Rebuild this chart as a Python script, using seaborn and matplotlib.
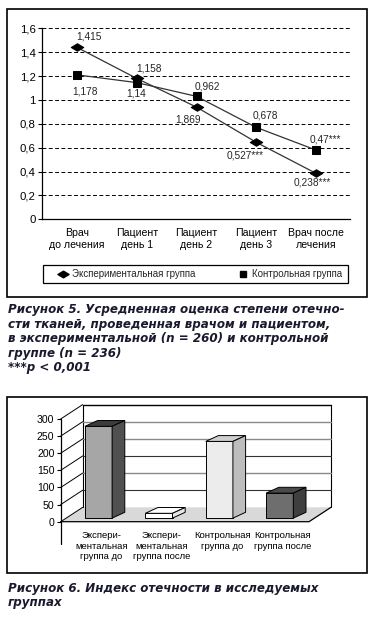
import numpy as np
import seaborn as sns
import matplotlib.pyplot as plt
from matplotlib.patches import Rectangle, Polygon
from matplotlib.lines import Line2D
from matplotlib.path import Path

# рисунок 5 - данные
stages = ["Врач\nдо лечения", "Пациент\nдень 1", "Пациент\nдень 2",
          "Пациент\nдень 3", "Врач после\nлечения"]
exp_group = [1.44, 1.18, 0.94, 0.645, 0.385]
ctrl_group = [1.21, 1.145, 1.03, 0.77, 0.58]
exp_labels = ["1,415", "1,158", "1,869", "0,527***", "0,238***"]
ctrl_labels = ["1,178", "1,14", "0,962", "0,678", "0,47***"]
line_ticks = [0, 0.2, 0.4, 0.6, 0.8, 1.0, 1.2, 1.4, 1.6]

# рисунок 6 - данные
bar_groups = ["Экспери-\nментальная\nгруппа до", "Экспери-\nментальная\nгруппа после",
              "Контрольная\nгруппа до", "Контрольная\nгруппа после"]
bar_values = [268, 14, 224, 73]
bar_ticks = [0, 50, 100, 150, 200, 250, 300]

caption5 = ["Рисунок 5. Усредненная оценка степени отечно-",
            "сти тканей, проведенная врачом и пациентом,",
            "в экспериментальной (n = 260) и контрольной",
            "группе (n = 236)",
            "***p < 0,001"]
caption6 = ["Рисунок 6. Индекс отечности в исследуемых",
            "группах"]

sns.set_theme(style="white")
plt.rcParams['font.family'] = ['Liberation Sans', 'DejaVu Sans']

W, H = 375, 619
fig = plt.figure(figsize=(W / 100, H / 100), dpi=100)


def fx(x):
    return x / W


def fy(y):
    return 1 - y / H


def box(x0, y0, x1, y1, lw=1.2):
    fig.add_artist(Rectangle((fx(x0), fy(y1)), (x1 - x0) / W, (y1 - y0) / H,
                             fill=False, ec="black", lw=lw,
                             transform=fig.transFigure))


# ---------- рисунок 5 ----------
ax1 = fig.add_axes([fx(42), fy(219.3), (350 - 42) / W, (219.3 - 28.3) / H])
pos = np.arange(len(stages))
diamond = Path([(-1, 0), (0, 0.6), (1, 0), (0, -0.6), (-1, 0)],
               [Path.MOVETO, Path.LINETO, Path.LINETO, Path.LINETO, Path.CLOSEPOLY])

sns.lineplot(x=pos, y=ctrl_group, ax=ax1, color="#333333", lw=0.9,
             marker="s", markersize=5.2, markerfacecolor="black",
             markeredgecolor="black", zorder=3)
sns.lineplot(x=pos, y=exp_group, ax=ax1, color="#333333", lw=0.9,
             marker=diamond, markersize=9, markerfacecolor="black",
             markeredgecolor="black", zorder=4)

exp_off = [(12, 10.7), (12, 10.3), (-8, -12), (-11, -13.3), (-4, -9)]
ctrl_off = [(8, -16.3), (-1, -11), (11, 9.7), (9, 11.7), (9, 10.3)]
for i in range(len(stages)):
    ax1.annotate(exp_labels[i], (pos[i], exp_group[i]), xytext=exp_off[i],
                 textcoords="offset pixels", ha="center", va="center", fontsize=7.3)
    ax1.annotate(ctrl_labels[i], (pos[i], ctrl_group[i]), xytext=ctrl_off[i],
                 textcoords="offset pixels", ha="center", va="center", fontsize=7.3)

ax1.set_xlim(-0.586, 4.569)
ax1.set_ylim(0, 1.6)
ax1.set_yticks(line_ticks)
ax1.set_yticklabels([f"{v:g}".replace(".", ",") for v in line_ticks])
ax1.set_xticks(pos)
ax1.set_xticklabels(stages, linespacing=1.3)
ax1.yaxis.grid(True, linestyle=(0, (4, 2.5)), color="black", lw=0.7)
ax1.xaxis.grid(False)
for s in ["top", "right"]:
    ax1.spines[s].set_visible(False)
for s in ["left", "bottom"]:
    ax1.spines[s].set_color("black")
    ax1.spines[s].set_linewidth(0.9)
ax1.tick_params(axis="y", left=True, length=3, width=0.8, pad=1.5,
                labelsize=8.2, colors="black")
ax1.tick_params(axis="x", length=0, pad=6, labelsize=7.6, colors="black")

# легенда: два элемента в рамке
legend_items = [("Экспериментальная группа", diamond, 8, 58),
                ("Контрольная группа", "s", 5, 238)]
for text, mk, ms, x_px in legend_items:
    lg = fig.legend([Line2D([], [], ls="none", marker=mk, ms=ms, color="black")], [text],
                    loc="center left", bbox_to_anchor=(fx(x_px), fy(274.3)),
                    frameon=False, fontsize=7.0, handlelength=1.0, handletextpad=0.4,
                    borderpad=0, borderaxespad=0)
box(43.3, 265, 348.3, 283.3, lw=0.9)
box(7.3, 9.3, 366.7, 297.3)

for i, line in enumerate(caption5):
    fig.text(fx(8), fy(313.5 + i * 14.4), line, fontsize=8.6, fontweight="bold",
             style="italic", color="#1a1a2e", va="baseline", ha="left",
             family="DejaVu Sans")

# ---------- рисунок 6 ----------
ax2 = fig.add_axes([fx(60.7), fy(521.7), (331 - 60.7) / W, (521.7 - 404.6) / H])
front_c = ["#a6a6a6", "#ffffff", "#ececec", "#6e6e6e"]
side_c = ["#505050", "#e6e6e6", "#bdbdbd", "#3f3f3f"]
top_c = ["#3c3c3c", "#ffffff", "#cfcfcf", "#4a4a4a"]

sns.barplot(x=bar_groups, y=bar_values, hue=bar_groups, palette=front_c,
            width=0.45, edgecolor="black", linewidth=0.7, legend=False,
            saturation=1, ax=ax2, zorder=3)

xl, xrb = -0.535, 3.94
dxd, dyd = 0.364, 42
xrf = xrb - dxd
top_v = bar_ticks[-1]
ax2.set_xlim(xl, xrb)
ax2.set_ylim(0, top_v + dyd)

# пол и стенки
ax2.add_patch(Polygon([(xl, 0), (xrf, 0), (xrb, dyd), (xl + dxd, dyd)],
                      closed=True, fc="#d9d9d9", ec="none", zorder=0.5))
ax2.plot([xl, xrf, xrb], [0, 0, dyd], color="black", lw=0.9, zorder=1, clip_on=False)
ax2.plot([xl + dxd, xl + dxd], [dyd, top_v + dyd], color="black", lw=0.8, zorder=1, clip_on=False)
ax2.plot([xrb, xrb], [dyd, top_v + dyd], color="black", lw=0.8, zorder=1, clip_on=False)
grid_c = {50: "#333333", 100: "#8a8a8a", 150: "#333333", 200: "#8a8a8a",
          250: "#8a8a8a", 300: "black"}
for v in bar_ticks:
    ax2.plot([xl, xl + dxd], [v, v + dyd], color="black", lw=0.7, zorder=1, clip_on=False)
    if v > 0:
        ax2.plot([xl + dxd, xrb], [v + dyd, v + dyd], color=grid_c[v],
                 lw=1.0 if grid_c[v] != "#333333" else 0.8, zorder=1, clip_on=False)
ax2.plot([xl, xl], [-65, top_v], color="black", lw=0.9, zorder=1, clip_on=False)

# объем столбцов
bdx, bdy = 0.25 * dxd, 0.25 * dyd
ddx, ddy = 0.21, 17
for i, p in enumerate(ax2.patches[:len(bar_values)]):
    p.set_x(p.get_x() + bdx)
    p.set_y(bdy)
    x0 = p.get_x()
    x1 = x0 + p.get_width()
    y1 = bdy + p.get_height()
    ax2.add_patch(Polygon([(x0, y1), (x1, y1), (x1 + ddx, y1 + ddy), (x0 + ddx, y1 + ddy)],
                          closed=True, fc=top_c[i], ec="black", lw=0.7, zorder=3))
    ax2.add_patch(Polygon([(x1, bdy), (x1, y1), (x1 + ddx, y1 + ddy), (x1 + ddx, bdy + ddy)],
                          closed=True, fc=side_c[i], ec="black", lw=0.7, zorder=3))

for s in ax2.spines.values():
    s.set_visible(False)
ax2.set_yticks(bar_ticks)
ax2.set_yticklabels([str(v) for v in bar_ticks])
ax2.set_xticks(np.arange(len(bar_groups)) + 0.14)
ax2.set_xticklabels(bar_groups, linespacing=1.2)
ax2.grid(False)
ax2.tick_params(axis="y", left=True, length=3, width=0.8, pad=1.5,
                labelsize=7.6, colors="black")
ax2.tick_params(axis="x", length=0, pad=7, labelsize=6.8, colors="black")
ax2.set_xlabel("")
ax2.set_ylabel("")

box(7.3, 397.3, 366.7, 572.7)
for i, line in enumerate(caption6):
    fig.text(fx(8), fy(592 + i * 14.2), line, fontsize=8.6, fontweight="bold",
             style="italic", color="#1a1a2e", va="baseline", ha="left",
             family="DejaVu Sans")

fig.savefig("out.png", dpi=100)
